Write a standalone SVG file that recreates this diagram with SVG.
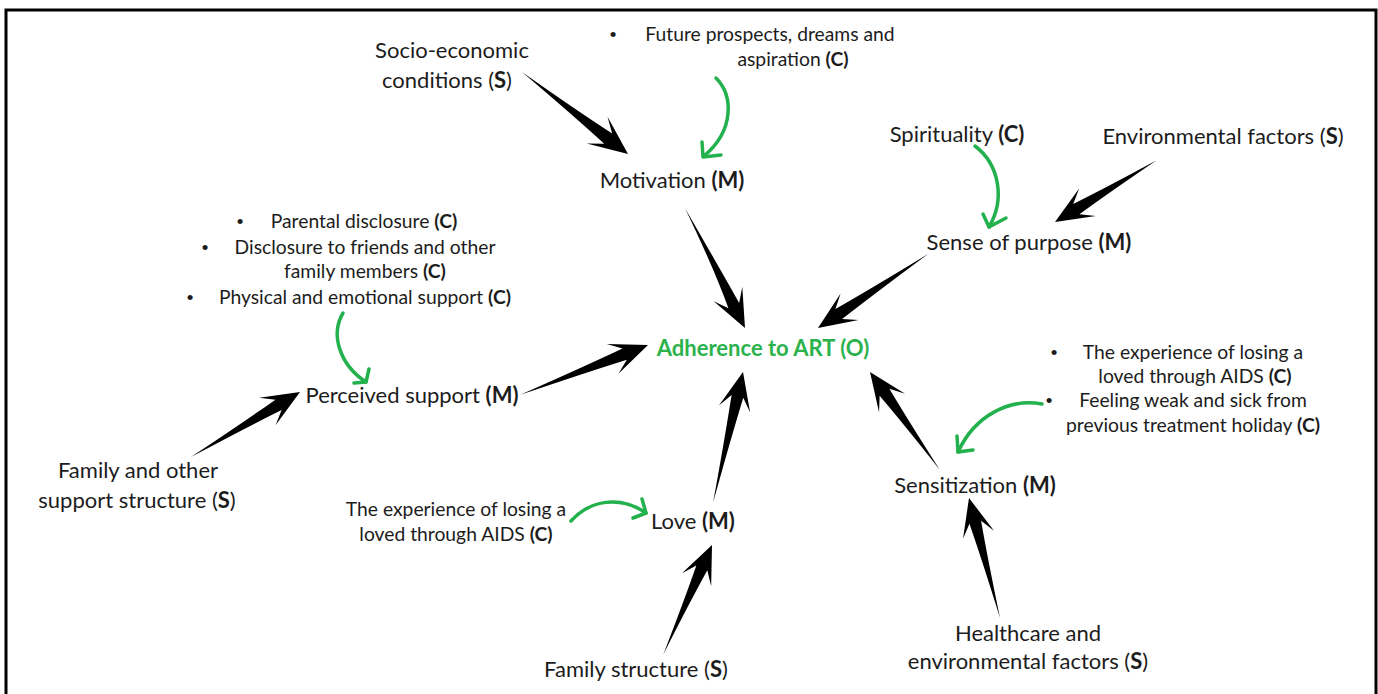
<svg xmlns="http://www.w3.org/2000/svg" width="1378" height="694" viewBox="0 0 1378 694">
<style>
.t{font-family:Lato,"Liberation Sans",sans-serif;fill:#1c1c1c;font-size:22px;text-anchor:middle}
.s{font-size:19.3px}
.b{font-weight:bold}
.bul{font-family:"Liberation Sans",sans-serif;font-size:19px;fill:#1c1c1c;text-anchor:middle}
.o{font-family:Lato,"Liberation Sans",sans-serif;font-weight:bold;font-size:22px;fill:#2bb24c;text-anchor:middle}
.blk{fill:#000}
.g{fill:none;stroke:#22b14c;stroke-width:3.5;stroke-linecap:round;stroke-linejoin:round}
</style>
<rect width="1378" height="694" fill="#fff"/>
<path d="M6,700 V10 H1376 V700" fill="none" stroke="#000" stroke-width="3"/>

<g id="connectors">
  <path class="blk" transform="translate(628,154) rotate(37.7)" d="M-134,0 Q-67,-3 -25,-6.5 L-39,-17 L0,0 L-39,17 L-25,6.5 Q-67,3 -134,0Z"/>
  <path class="blk" transform="translate(745,328) rotate(63.4)" d="M-134,0 Q-67,-4 -25,-6 L-38,-16 L0,0 L-38,16 L-25,6 Q-67,1 -134,0Z"/>
  <path class="blk" transform="translate(1055,222) rotate(148.7)" d="M-119,0 Q-60,-3 -25,-6 L-38,-16 L0,0 L-38,16 L-25,6 Q-60,3 -119,0Z"/>
  <path class="blk" transform="translate(818,328) rotate(146.1)" d="M-133,0 Q-67,-3 -25,-6 L-38,-16 L0,0 L-38,16 L-25,6 Q-67,3 -133,0Z"/>
  <path class="blk" transform="translate(648,345) rotate(-21.3)" d="M-137,0 Q-69,-3 -25,-6 L-38,-16 L0,0 L-38,16 L-25,6 Q-69,3 -137,0Z"/>
  <path class="blk" transform="translate(300,392) rotate(-30.8)" d="M-127,0 Q-64,-3 -25,-6 L-38,-16 L0,0 L-38,16 L-25,6 Q-64,3 -127,0Z"/>
  <path class="blk" transform="translate(743,372) rotate(-77.1)" d="M-134,0 Q-67,-3 -25,-6 L-38,-16 L0,0 L-38,16 L-25,6 Q-67,3 -134,0Z"/>
  <path class="blk" transform="translate(870,372) rotate(-125.5)" d="M-120,0 Q-60,-3 -25,-6 L-38,-16 L0,0 L-38,16 L-25,6 Q-60,3 -120,0Z"/>
  <path class="blk" transform="translate(969,498) rotate(-104.5)" d="M-124,0 Q-62,-3 -25,-6 L-38,-16 L0,0 L-38,16 L-25,6 Q-62,3 -124,0Z"/>
  <path class="blk" transform="translate(712,545) rotate(-66)" d="M-120,0 Q-60,-3 -25,-6 L-38,-16 L0,0 L-38,16 L-25,6 Q-60,3 -120,0Z"/>
  <path class="g" d="M716,78 C733,95 735,130 704,156"/>
  <path class="g" d="M702,142 L703,157 L721,155"/>
  <path class="g" d="M975,146 C1000,165 1005,200 989,227"/>
  <path class="g" d="M983,214 L989,227 L1006,218"/>
  <path class="g" d="M343,313 C330,335 340,365 366,382"/>
  <path class="g" d="M369,369 L366,382 L354,383"/>
  <path class="g" d="M1042,404 C1010,398 975,415 958,452"/>
  <path class="g" d="M957,436 L958,452 L973,450"/>
  <path class="g" d="M571,521 C590,500 620,495 646,513"/>
  <path class="g" d="M642,499 L646,513 L633,518"/>
</g>

<g id="n-socio"><text class="t" x="452" y="58">Socio-economic</text><text class="t" x="447" y="88">conditions (<tspan class="b">S</tspan>)</text></g>
<g id="n-future"><text class="bul" x="613" y="41">•</text><text class="t s" x="770" y="41">Future prospects, dreams and</text><text class="t s" x="793" y="66">aspiration <tspan class="b">(C)</tspan></text></g>
<g id="n-motivation"><text class="t" x="672" y="188">Motivation <tspan class="b">(M)</tspan></text></g>
<g id="n-spirituality"><text class="t" x="957" y="142">Spirituality <tspan class="b">(C)</tspan></text></g>
<g id="n-env"><text class="t" x="1223" y="144">Environmental factors (<tspan class="b">S</tspan>)</text></g>
<g id="n-sense"><text class="t" x="1029" y="250">Sense of purpose <tspan class="b">(M)</tspan></text></g>
<g id="n-disclosure">
  <text class="bul" x="240" y="228">•</text><text class="t s" x="364" y="228">Parental disclosure <tspan class="b">(C)</tspan></text>
  <text class="bul" x="205" y="254">•</text><text class="t s" x="365" y="254">Disclosure to friends and other</text>
  <text class="t s" x="365" y="278">family members <tspan class="b">(C)</tspan></text>
  <text class="bul" x="190" y="304">•</text><text class="t s" x="365" y="304">Physical and emotional support <tspan class="b">(C)</tspan></text>
</g>
<g id="n-perceived"><text class="t" x="412" y="403">Perceived support <tspan class="b">(M)</tspan></text></g>
<g id="n-adherence"><text class="o" x="763" y="356">Adherence to ART (O)</text></g>
<g id="n-sens-ctx">
  <text class="bul" x="1054" y="359">•</text><text class="t s" x="1193" y="359">The experience of losing a</text>
  <text class="t s" x="1195" y="383">loved through AIDS <tspan class="b">(C)</tspan></text>
  <text class="bul" x="1049" y="407">•</text><text class="t s" x="1193" y="407">Feeling weak and sick from</text>
  <text class="t s" x="1193" y="432">previous treatment holiday <tspan class="b">(C)</tspan></text>
</g>
<g id="n-sensitization"><text class="t" x="975" y="493">Sensitization <tspan class="b">(M)</tspan></text></g>
<g id="n-family-other"><text class="t" x="138" y="478">Family and other</text><text class="t" x="137" y="508">support structure (<tspan class="b">S</tspan>)</text></g>
<g id="n-love-ctx"><text class="t s" x="456" y="516">The experience of losing a</text><text class="t s" x="456" y="541">loved through AIDS <tspan class="b">(C)</tspan></text></g>
<g id="n-love"><text class="t" x="693" y="529">Love <tspan class="b">(M)</tspan></text></g>
<g id="n-family-structure"><text class="t" x="636" y="677">Family structure (<tspan class="b">S</tspan>)</text></g>
<g id="n-healthcare"><text class="t" x="1028" y="641">Healthcare and</text><text class="t" x="1028" y="669">environmental factors (<tspan class="b">S</tspan>)</text></g>
</svg>
